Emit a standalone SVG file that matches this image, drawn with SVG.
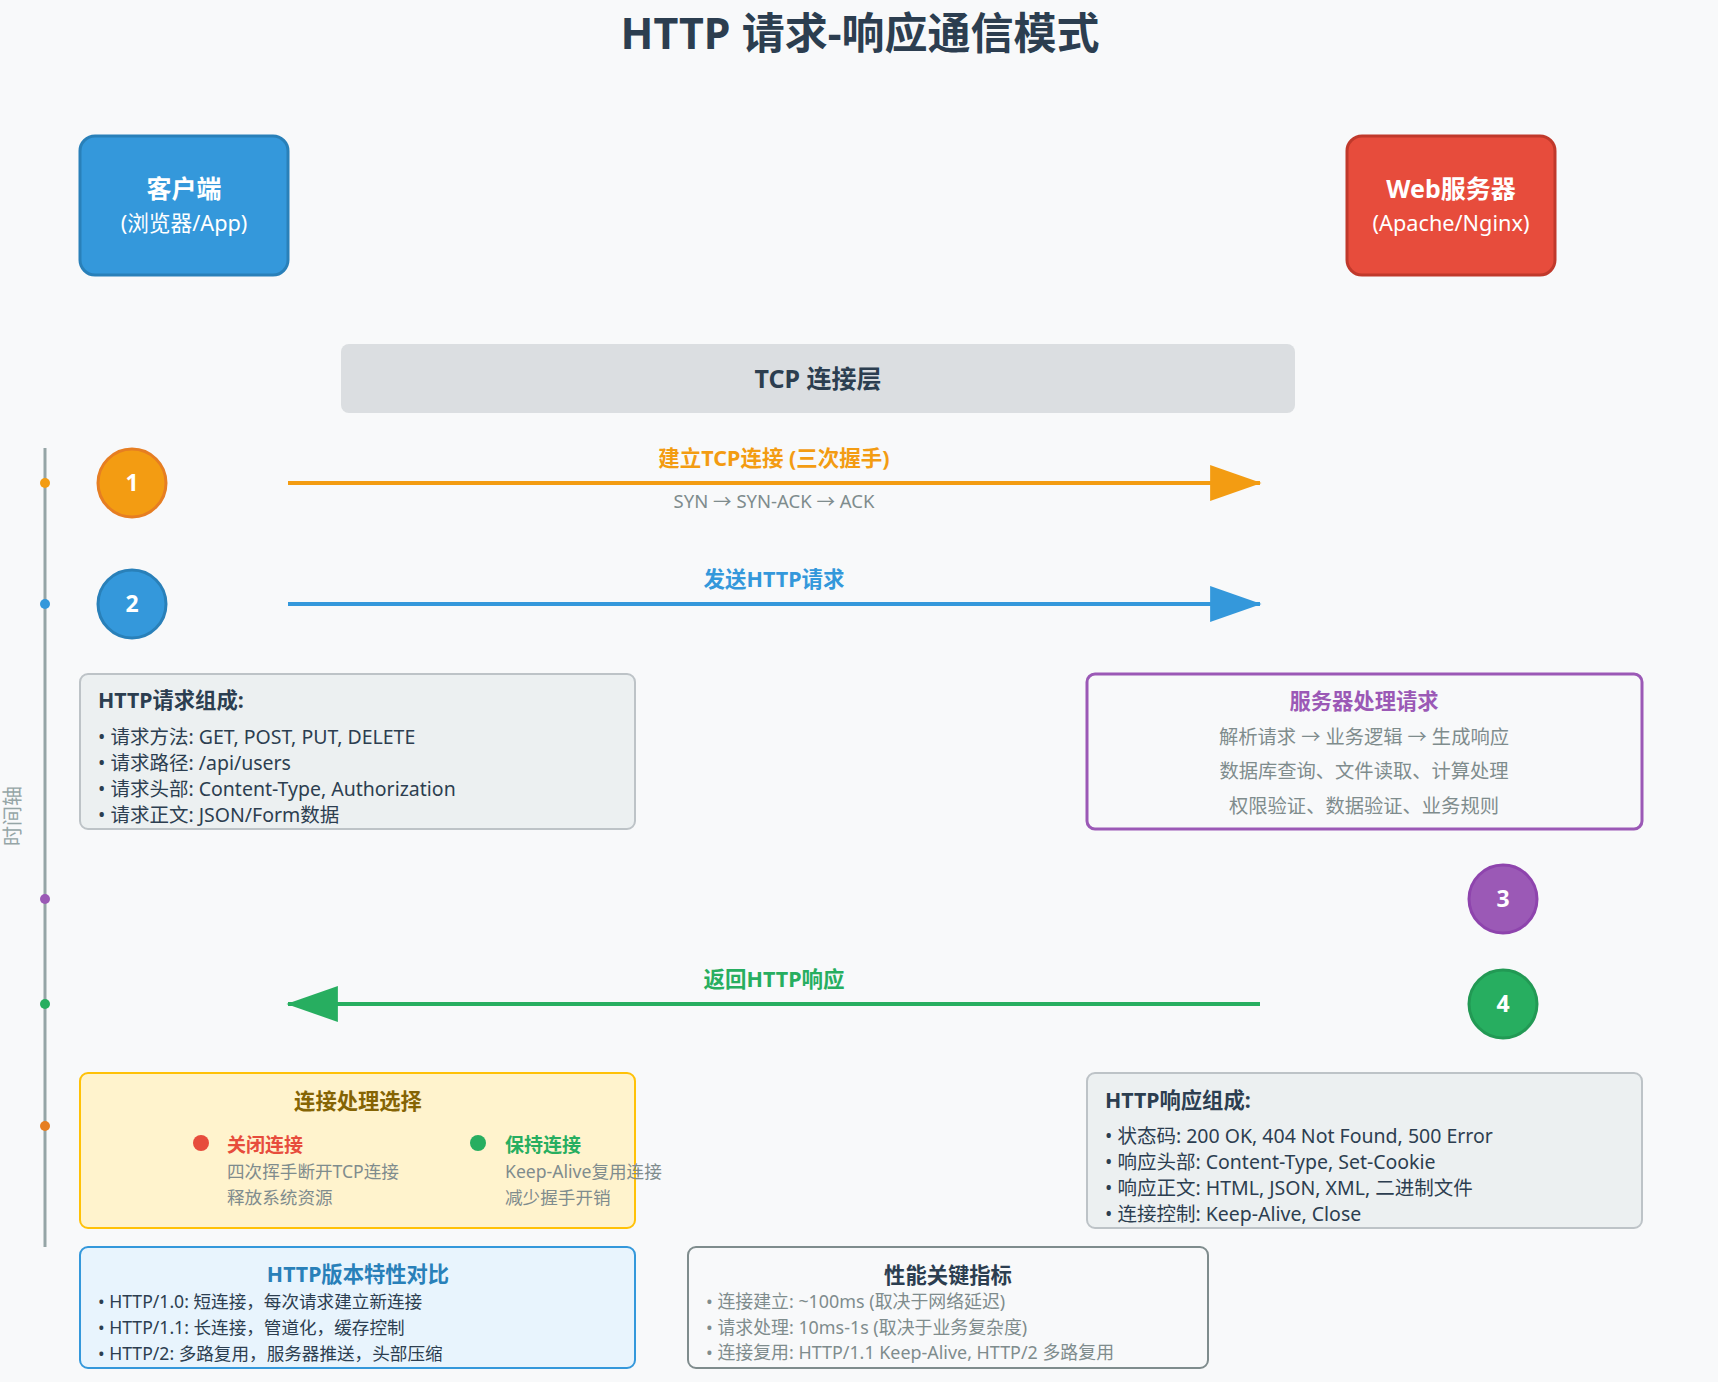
<svg xmlns="http://www.w3.org/2000/svg" width="1718" height="1382" viewBox="0 0 1718 1382">
  <style>
    text { font-family: "Noto Sans", "Noto Sans CJK SC", sans-serif; }
    .b { font-weight: bold; }
    .title { font-size: 43px; fill: #2c3e50; font-weight: bold; }
    .white { fill: #ffffff; }
    .dark { fill: #2c3e50; }
    .gray { fill: #7f8c8d; }
    .num { font-size: 23px; font-weight: bold; fill: #ffffff; }
    .lbl { font-size: 21.5px; font-weight: bold; }
    .item { font-size: 19.5px; fill: #2c3e50; }
    .small { font-size: 17.6px; }
    .perf { font-size: 17.9px; }
    .sub { font-size: 21.7px; }
    .hd { font-size: 21.3px; font-weight: bold; }
  </style>
  <defs>
    <marker id="arrOrange" viewBox="0 0 10 7" markerUnits="userSpaceOnUse" markerWidth="52" markerHeight="36" refX="9.7" refY="3.5" orient="auto">
      <polygon points="0 0, 10 3.5, 0 7" fill="#f39c12"/>
    </marker>
    <marker id="arrBlue" viewBox="0 0 10 7" markerUnits="userSpaceOnUse" markerWidth="52" markerHeight="36" refX="9.7" refY="3.5" orient="auto">
      <polygon points="0 0, 10 3.5, 0 7" fill="#3498db"/>
    </marker>
    <marker id="arrGreen" viewBox="0 0 10 7" markerUnits="userSpaceOnUse" markerWidth="52" markerHeight="36" refX="9.7" refY="3.5" orient="auto">
      <polygon points="0 0, 10 3.5, 0 7" fill="#27ae60"/>
    </marker>
  </defs>

  <rect x="0" y="0" width="1718" height="1382" fill="#f8f9fa"/>

  <text class="title" x="860" y="49" text-anchor="middle">HTTP 请求-响应通信模式</text>

  <g id="client">
    <rect x="80" y="136" width="208" height="139" rx="15" fill="#3498db" stroke="#2980b9" stroke-width="3"/>
    <text x="184" y="198" text-anchor="middle" class="white b" font-size="25">客户端</text>
    <text x="184" y="231" text-anchor="middle" class="white sub">(浏览器/App)</text>
  </g>

  <g id="server">
    <rect x="1347" y="136" width="208" height="139" rx="15" fill="#e74c3c" stroke="#c0392b" stroke-width="3"/>
    <text x="1451" y="198" text-anchor="middle" class="white b" font-size="25">Web服务器</text>
    <text x="1451" y="231" text-anchor="middle" class="white sub">(Apache/Nginx)</text>
  </g>

  <g id="tcp-layer">
    <rect x="341" y="344" width="954" height="69" rx="8" fill="#bdc3c7" fill-opacity="0.5"/>
    <text x="818" y="388" text-anchor="middle" class="dark b" font-size="25">TCP 连接层</text>
  </g>

  <g id="timeline">
    <line x1="45" y1="448" x2="45" y2="1247" stroke="#95a5a6" stroke-width="3"/>
    <circle cx="45" cy="483" r="5" fill="#f39c12"/>
    <circle cx="45" cy="604" r="5" fill="#3498db"/>
    <circle cx="45" cy="899" r="5" fill="#9b59b6"/>
    <circle cx="45" cy="1004" r="5" fill="#27ae60"/>
    <circle cx="45" cy="1126" r="5" fill="#e67e22"/>
    <text x="0" y="0" transform="translate(20,816) rotate(-90)" text-anchor="middle" font-size="20" fill="#95a5a6">时间轴</text>
  </g>

  <g id="step1">
    <circle cx="132" cy="483" r="34" fill="#f39c12" stroke="#e67e22" stroke-width="3"/>
    <text x="132" y="491" text-anchor="middle" class="num">1</text>
  </g>
  <g id="step2">
    <circle cx="132" cy="604" r="34" fill="#3498db" stroke="#2980b9" stroke-width="3"/>
    <text x="132" y="612" text-anchor="middle" class="num">2</text>
  </g>
  <g id="step3">
    <circle cx="1503" cy="899" r="34" fill="#9b59b6" stroke="#8e44ad" stroke-width="3"/>
    <text x="1503" y="907" text-anchor="middle" class="num">3</text>
  </g>
  <g id="step4">
    <circle cx="1503" cy="1004" r="34" fill="#27ae60" stroke="#229954" stroke-width="3"/>
    <text x="1503" y="1012" text-anchor="middle" class="num">4</text>
  </g>

  <g id="connectors">
    <line x1="288" y1="483" x2="1260" y2="483" stroke="#f39c12" stroke-width="4" marker-end="url(#arrOrange)"/>
    <text x="774" y="466" text-anchor="middle" class="lbl" fill="#f39c12">建立TCP连接 (三次握手)</text>
    <text x="774" y="508" text-anchor="middle" class="gray" font-size="18.5">SYN → SYN-ACK → ACK</text>

    <line x1="288" y1="604" x2="1260" y2="604" stroke="#3498db" stroke-width="4" marker-end="url(#arrBlue)"/>
    <text x="774" y="587" text-anchor="middle" class="lbl" fill="#3498db">发送HTTP请求</text>

    <line x1="1260" y1="1004" x2="288" y2="1004" stroke="#27ae60" stroke-width="4" marker-end="url(#arrGreen)"/>
    <text x="774" y="987" text-anchor="middle" class="lbl" fill="#27ae60">返回HTTP响应</text>
  </g>

  <g id="request-info">
    <rect x="80" y="674" width="555" height="155" rx="8" fill="#ecf0f1" stroke="#bdc3c7" stroke-width="2"/>
    <text x="98" y="708" class="dark hd">HTTP请求组成:</text>
    <text x="98" y="744" class="item">• 请求方法: GET, POST, PUT, DELETE</text>
    <text x="98" y="770" class="item">• 请求路径: /api/users</text>
    <text x="98" y="796" class="item">• 请求头部: Content-Type, Authorization</text>
    <text x="98" y="822" class="item">• 请求正文: JSON/Form数据</text>
  </g>

  <g id="server-processing">
    <rect x="1087" y="674" width="555" height="155" rx="8" fill="#f8f9fa" stroke="#9b59b6" stroke-width="3"/>
    <text x="1364" y="709" text-anchor="middle" class="hd" fill="#9b59b6">服务器处理请求</text>
    <text x="1364" y="744" text-anchor="middle" class="gray" font-size="19.3">解析请求 → 业务逻辑 → 生成响应</text>
    <text x="1364" y="778" text-anchor="middle" class="gray" font-size="19.3">数据库查询、文件读取、计算处理</text>
    <text x="1364" y="813" text-anchor="middle" class="gray" font-size="19.3">权限验证、数据验证、业务规则</text>
  </g>

  <g id="connection-choice">
    <rect x="80" y="1073" width="555" height="155" rx="8" fill="#fff3cd" stroke="#ffc107" stroke-width="2"/>
    <text x="358" y="1109" text-anchor="middle" class="hd" fill="#856404">连接处理选择</text>
    <circle cx="201" cy="1143" r="8" fill="#e74c3c"/>
    <text x="227" y="1152" class="b" font-size="19" fill="#e74c3c">关闭连接</text>
    <text x="227" y="1178" class="gray small">四次挥手断开TCP连接</text>
    <text x="227" y="1204" class="gray small">释放系统资源</text>
    <circle cx="478" cy="1143" r="8" fill="#27ae60"/>
    <text x="505" y="1152" class="b" font-size="19" fill="#27ae60">保持连接</text>
    <text x="505" y="1178" class="gray small">Keep-Alive复用连接</text>
    <text x="505" y="1204" class="gray small">减少握手开销</text>
  </g>

  <g id="response-info">
    <rect x="1087" y="1073" width="555" height="155" rx="8" fill="#ecf0f1" stroke="#bdc3c7" stroke-width="2"/>
    <text x="1105" y="1108" class="dark hd">HTTP响应组成:</text>
    <text x="1105" y="1143" class="item">• 状态码: 200 OK, 404 Not Found, 500 Error</text>
    <text x="1105" y="1169" class="item">• 响应头部: Content-Type, Set-Cookie</text>
    <text x="1105" y="1195" class="item">• 响应正文: HTML, JSON, XML, 二进制文件</text>
    <text x="1105" y="1221" class="item">• 连接控制: Keep-Alive, Close</text>
  </g>

  <g id="version-compare">
    <rect x="80" y="1247" width="555" height="121" rx="8" fill="#e8f4fd" stroke="#3498db" stroke-width="2"/>
    <text x="358" y="1282" text-anchor="middle" class="hd" fill="#2980b9">HTTP版本特性对比</text>
    <text x="98" y="1308" class="dark small">• HTTP/1.0: 短连接，每次请求建立新连接</text>
    <text x="98" y="1334" class="dark small">• HTTP/1.1: 长连接，管道化，缓存控制</text>
    <text x="98" y="1360" class="dark small">• HTTP/2: 多路复用，服务器推送，头部压缩</text>
  </g>

  <g id="performance">
    <rect x="688" y="1247" width="520" height="121" rx="8" fill="#f8f9fa" stroke="#7f8c8d" stroke-width="2"/>
    <text x="948" y="1283" text-anchor="middle" class="dark hd">性能关键指标</text>
    <text x="706" y="1308" class="gray perf">• 连接建立: ~100ms (取决于网络延迟)</text>
    <text x="706" y="1334" class="gray perf">• 请求处理: 10ms-1s (取决于业务复杂度)</text>
    <text x="706" y="1359" class="gray perf">• 连接复用: HTTP/1.1 Keep-Alive, HTTP/2 多路复用</text>
  </g>
</svg>
